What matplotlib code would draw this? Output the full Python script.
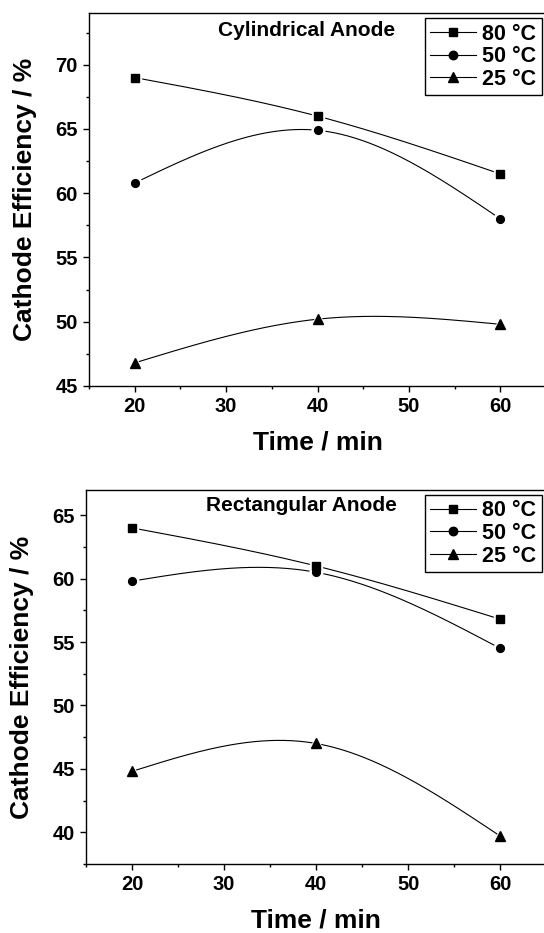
import numpy as np
import matplotlib
matplotlib.use('Agg')
import matplotlib.pyplot as plt
from matplotlib.ticker import MultipleLocator

plt.rcParams['font.family'] = ['Liberation Sans', 'DejaVu Sans']
plt.rcParams['font.weight'] = 'bold'

# --- data ---
time_min = [20, 40, 60]
series_labels = ['80 °C', '50 °C', '25 °C']
markers = ['s', 'o', '^']

cyl_80 = [69.0, 66.0, 61.5]
cyl_50 = [60.8, 64.9, 58.0]
cyl_25 = [46.8, 50.2, 49.8]

rect_80 = [64.0, 61.0, 56.8]
rect_50 = [59.8, 60.5, 54.5]
rect_25 = [44.8, 47.0, 39.7]


def natural_spline(x, y, num=200):
    # natural cubic spline through the points (like Origin "Spline" connect)
    x = np.asarray(x, float)
    y = np.asarray(y, float)
    n = len(x)
    h = np.diff(x)
    A = np.zeros((n, n))
    b = np.zeros(n)
    A[0, 0] = 1
    A[-1, -1] = 1
    for i in range(1, n - 1):
        A[i, i - 1] = h[i - 1] / 6
        A[i, i] = (h[i - 1] + h[i]) / 3
        A[i, i + 1] = h[i] / 6
        b[i] = (y[i + 1] - y[i]) / h[i] - (y[i] - y[i - 1]) / h[i - 1]
    M = np.linalg.solve(A, b)
    xs = np.linspace(x[0], x[-1], num)
    ys = np.empty_like(xs)
    for k, xv in enumerate(xs):
        i = min(np.searchsorted(x, xv, side='right') - 1, n - 2)
        t1 = x[i + 1] - xv
        t0 = xv - x[i]
        ys[k] = (M[i] * t1 ** 3 / (6 * h[i]) + M[i + 1] * t0 ** 3 / (6 * h[i])
                 + (y[i] / h[i] - M[i] * h[i] / 6) * t1
                 + (y[i + 1] / h[i] - M[i + 1] * h[i] / 6) * t0)
    return xs, ys


fig = plt.figure(figsize=(5.44, 9.33), dpi=100)
ax1 = fig.add_axes([0.1636, 0.5863, 0.8404, 0.3994])
ax2 = fig.add_axes([0.158, 0.074, 0.846, 0.401])

panels = [
    (ax1, [cyl_80, cyl_50, cyl_25], 'Cylindrical Anode', (45, 74), (0.475, 0.953)),
    (ax2, [rect_80, rect_50, rect_25], 'Rectangular Anode', (37.5, 67), (0.469, 0.958)),
]

for ax, data, title, ylim, tpos in panels:
    for vals, lab, mk in zip(data, series_labels, markers):
        xs, ys = natural_spline(time_min, vals)
        ms = 6.5 if mk == '^' else 5.6
        ax.plot(xs, ys, color='black', lw=0.8, zorder=2)
        # white halo so the line stops short of each marker
        ax.plot(time_min, vals, linestyle='none', marker=mk, color='white',
                ms=ms + 3.5, zorder=3)
        ax.plot(time_min, vals, linestyle='none', marker=mk, color='black',
                ms=ms, zorder=4)
        # legend proxy
        ax.plot([], [], color='black', lw=0.8, marker=mk, ms=ms + 0.5, label=lab)

    ax.set_xlim(15, 65)
    ax.set_ylim(*ylim)
    ax.xaxis.set_major_locator(MultipleLocator(10))
    ax.xaxis.set_minor_locator(MultipleLocator(5))
    ax.yaxis.set_major_locator(MultipleLocator(5))
    ax.yaxis.set_minor_locator(MultipleLocator(2.5))
    ax.tick_params(which='both', direction='out', width=1, labelsize=14.5,
                   top=False, right=False)
    ax.tick_params(which='major', length=4.5)
    ax.tick_params(which='minor', length=2.5)
    for lbl in ax.get_xticklabels() + ax.get_yticklabels():
        lbl.set_fontweight('bold')
    for sp in ax.spines.values():
        sp.set_linewidth(1.0)

    ax.set_xlabel('Time / min', fontsize=19, fontweight='bold', va='center')
    ax.set_ylabel('Cathode Efficiency / %', fontsize=19, fontweight='bold', va='center')
    ax.xaxis.set_label_coords(0.5, -0.152)
    ax.yaxis.set_label_coords(-0.14, 0.5)

    ax.text(tpos[0], tpos[1], title, transform=ax.transAxes, ha='center', va='center',
            fontsize=15, fontweight='bold')

    leg = ax.legend(loc='upper right', bbox_to_anchor=(0.99, 0.987), borderaxespad=0,
                    fancybox=False, edgecolor='black', framealpha=1,
                    prop={'size': 15.5, 'weight': 'bold'}, handlelength=2.1,
                    handletextpad=0.3, labelspacing=0.08, borderpad=0.25)
    leg.get_frame().set_linewidth(1.0)

fig.savefig('out.png', dpi=100)
